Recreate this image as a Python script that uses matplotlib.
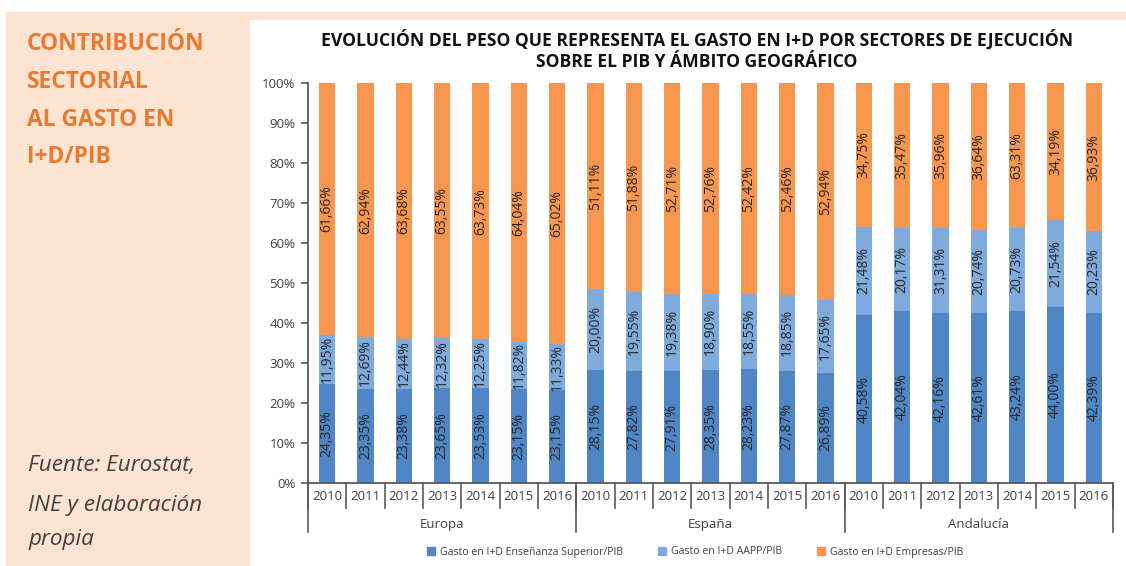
import numpy as np
import matplotlib
matplotlib.use("Agg")
import matplotlib.pyplot as plt
from matplotlib.patches import Rectangle, Patch
from matplotlib.lines import Line2D

plt.rcParams["font.family"] = ["Open Sans", "DejaVu Sans"]

groups = ["Europa", "España", "Andalucía"]
years = ["2010", "2011", "2012", "2013", "2014", "2015", "2016"]
series = ["Gasto en I+D Enseñanza Superior/PIB", "Gasto en I+D AAPP/PIB", "Gasto en I+D Empresas/PIB"]

superior = [24.35, 23.35, 23.38, 23.65, 23.53, 23.15, 23.15,
            28.15, 27.82, 27.91, 28.35, 28.23, 27.87, 26.89,
            40.58, 42.04, 42.16, 42.61, 43.24, 44.00, 42.39]
aapp = [11.95, 12.69, 12.44, 12.32, 12.25, 11.82, 11.33,
        20.00, 19.55, 19.38, 18.90, 18.55, 18.85, 17.65,
        21.48, 20.17, 21.31, 20.74, 20.73, 21.54, 20.23]
empresas = [61.66, 62.94, 63.68, 63.55, 63.73, 64.04, 65.02,
            51.11, 51.88, 52.71, 52.76, 52.42, 52.46, 52.94,
            34.75, 35.47, 35.96, 36.64, 36.31, 34.19, 36.93]
# the printed labels in the source carry two typos (bars follow the real values)
label_fix = {(1, 16): "31,31%", (2, 18): "63,31%"}

COLORS = ["#4f86c6", "#7eaadc", "#f6964f"]
PEACH, ORANGE, DARK = "#fde3d2", "#e97a32", "#404040"

vals = np.array([superior, aapp, empresas])
frac = vals / vals.sum(axis=0) * 100
n = vals.shape[1]
x = np.arange(n)

fig = plt.figure(figsize=(11.26, 5.66), dpi=100)
W, H = 1126, 566
fig.patches.append(Rectangle((6 / W, 0), 1 - 6 / W, 1 - 12 / H, transform=fig.transFigure,
                             color=PEACH, zorder=0))
fig.patches.append(Rectangle((250 / W, 0), 1 - 250 / W, 1 - 20 / H, transform=fig.transFigure,
                             color="white", zorder=0))

# left panel text
for txt, yb in zip(["CONTRIBUCIÓN", "SECTORIAL", "AL GASTO EN", "I+D/PIB"], [50, 88, 126, 163]):
    fig.text(27 / W, 1 - yb / H, txt, color=ORANGE, fontsize=16.4, fontweight="bold", va="baseline")
for txt, yb in zip(["Fuente: Eurostat,", "INE y elaboración", "propia"], [471, 511, 545]):
    fig.text(28 / W, 1 - yb / H, txt, color=DARK, fontsize=16.2, style="italic", va="baseline")

fig.text(697 / W, 1 - 50 / H, "EVOLUCIÓN DEL PESO QUE REPRESENTA EL GASTO EN I+D POR SECTORES DE EJECUCIÓN\n"
         "SOBRE EL PIB Y ÁMBITO GEOGRÁFICO", ha="center", va="center", fontsize=12.6,
         fontweight="bold", color="#111111", linespacing=1.2)

ax = fig.add_axes([308 / W, 1 - 483 / H, (1113 - 308) / W, 400 / H])
ax.set_zorder(2)
ax.patch.set_alpha(0)
bottom = np.zeros(n)
for k in range(3):
    ax.bar(x, frac[k], 0.42, bottom=bottom, color=COLORS[k], zorder=2)
    for i in range(n):
        lab = label_fix.get((k, i), f"{vals[k, i]:.2f}%".replace(".", ","))
        ax.text(x[i], bottom[i] + frac[k, i] / 2, lab, rotation=90, ha="center", va="center",
                fontsize=10, color="#262626", zorder=3)
    bottom += frac[k]

ax.set_xlim(-0.5, n - 0.5)
ax.set_ylim(0, 100)
ax.set_yticks(range(0, 101, 10))
ax.set_yticklabels([f"{v}%" for v in range(0, 101, 10)], fontsize=9.5, color=DARK)
ax.tick_params(axis="y", length=5, width=1.2, color="#595959", pad=4)
ax.set_xticks([])
for s in ["top", "right"]:
    ax.spines[s].set_visible(False)
for s in ["left", "bottom"]:
    ax.spines[s].set_color("#595959")
    ax.spines[s].set_linewidth(1.3)

tr = ax.get_xaxis_transform()
for i in range(n):
    ax.text(x[i], -0.035, years[i % 7], transform=tr, ha="center", va="center",
            fontsize=9.5, color=DARK)
for i in range(n + 1):
    ax.add_line(Line2D([i - 0.5, i - 0.5], [0, -0.0625], transform=tr, color="#595959",
                       lw=1.2, clip_on=False))
for g in range(4):
    ax.add_line(Line2D([g * 7 - 0.5] * 2, [0, -0.1225], transform=tr, color="#595959",
                       lw=1.2, clip_on=False))
for g, name in enumerate(groups):
    ax.text(g * 7 + 3, -0.103, name, transform=tr, ha="center", va="center", fontsize=9.5, color=DARK)

handles = [Patch(color=c) for c in COLORS]
fig.legend(handles, series, loc="center", bbox_to_anchor=(695 / W, 1 - 552 / H), ncol=3,
           frameon=False, fontsize=7.6, handlelength=0.8, handleheight=0.8,
           handletextpad=0.45, columnspacing=3.3, labelcolor=DARK)

fig.savefig("out.png", dpi=100)
